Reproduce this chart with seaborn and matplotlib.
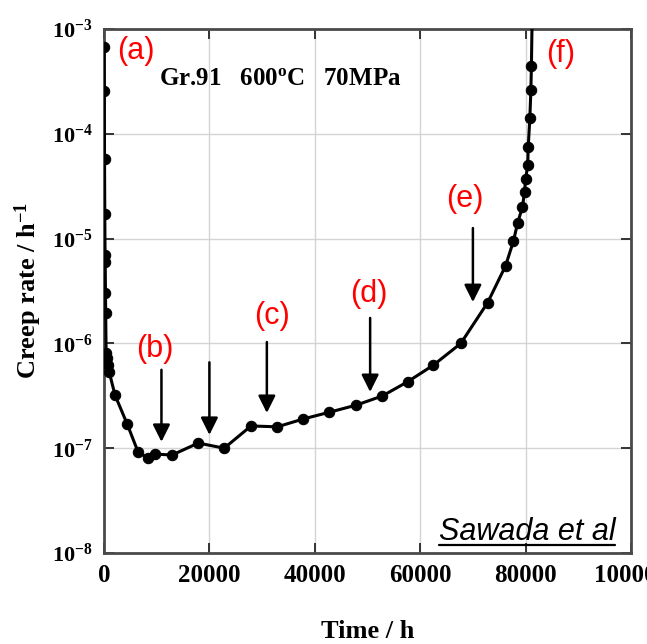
import numpy as np
import pandas as pd
import matplotlib
matplotlib.use("Agg")
import matplotlib.pyplot as plt
from matplotlib.ticker import FixedLocator, FixedFormatter, NullLocator
import seaborn as sns

# ---- data ----
time_h = [30, 60, 100, 150, 200, 230, 280, 320, 400, 600, 800, 1000,
          2100, 4400, 6500, 8400, 9700, 12900, 17900, 22800, 27900, 32900,
          37800, 42700, 47900, 52800, 57600, 62500, 67700, 72800, 76200,
          77700, 78500, 79400, 79800, 80000, 80400, 80500, 80800, 81000, 81100,
          81300]
creep_rate = [6.7e-4, 2.55e-4, 5.7e-5, 1.7e-5, 7.0e-6, 6.0e-6, 3.0e-6, 1.95e-6,
              8.1e-7, 7.2e-7, 6.2e-7, 5.3e-7,
              3.2e-7, 1.7e-7, 9.1e-8, 8.1e-8, 8.8e-8, 8.6e-8, 1.12e-7, 1.0e-7,
              1.63e-7, 1.6e-7, 1.9e-7, 2.2e-7, 2.58e-7, 3.15e-7, 4.3e-7, 6.2e-7,
              1.0e-6, 2.45e-6, 5.5e-6, 9.5e-6, 1.42e-5, 2.0e-5, 2.8e-5, 3.7e-5,
              5.0e-5, 7.5e-5, 1.4e-4, 2.6e-4, 4.4e-4, 2.0e-3]

xtick_values = [0, 20000, 40000, 60000, 80000, 100000]
xtick_labels = ["0", "20000", "40000", "60000", "80000", "100000"]
ytick_exponents = [-8, -7, -6, -5, -4, -3]
ytick_labels = ["10$^{%d}$" % e for e in ytick_exponents]

stage_labels = ["(a)", "(b)", "(c)", "(d)", "(e)", "(f)"]
stage_label_t = [6100, 9700, 31900, 50200, 68400, 86700]
stage_label_rate = [6.2e-4, 8.85e-7, 1.82e-6, 2.96e-6, 2.39e-5, 5.8e-4]

arrow_t = [10900, 20000, 30900, 50500, 70000]
arrow_tail = [5.6e-7, 6.6e-7, 1.03e-6, 1.75e-6, 1.26e-5]
arrow_tip = [1.15e-7, 1.34e-7, 2.17e-7, 3.44e-7, 2.48e-6]

df = pd.DataFrame({"Time": time_h, "Rate": creep_rate})

sns.set_theme(style="ticks")
plt.rcParams["font.family"] = ["Liberation Serif", "DejaVu Serif"]
plt.rcParams["font.weight"] = "bold"
plt.rcParams["text.color"] = "black"
plt.rcParams["axes.labelcolor"] = "black"
plt.rcParams["xtick.color"] = "black"
plt.rcParams["ytick.color"] = "black"
plt.rcParams["mathtext.fontset"] = "custom"
plt.rcParams["mathtext.rm"] = "Liberation Serif:bold"
plt.rcParams["mathtext.bf"] = "Liberation Serif:bold"
plt.rcParams["mathtext.it"] = "Liberation Serif:italic:bold"
plt.rcParams["mathtext.default"] = "rm"

fig = plt.figure(figsize=(6.47, 6.44), dpi=100)
ax = fig.add_axes([104 / 647, 1 - 553 / 644, 527 / 647, 524 / 644])

sns.lineplot(data=df, x="Time", y="Rate", ax=ax, sort=False, estimator=None,
             color="black", linewidth=2.2, marker="o", markersize=7.5,
             markeredgecolor="black", markerfacecolor="black", zorder=3)

ax.set_yscale("log")
ax.set_xlim(0, 100000)
ax.set_ylim(1e-8, 1e-3)

ax.xaxis.set_major_locator(FixedLocator(xtick_values))
ax.xaxis.set_major_formatter(FixedFormatter(xtick_labels))
ax.yaxis.set_major_locator(FixedLocator([10.0 ** e for e in ytick_exponents]))
ax.yaxis.set_major_formatter(FixedFormatter(ytick_labels))
ax.yaxis.set_minor_locator(NullLocator())
ax.xaxis.set_minor_locator(NullLocator())

ax.grid(True, color="#d4d4d4", linewidth=1.0)
ax.set_axisbelow(True)
ax.tick_params(axis="both", which="major", direction="in", top=True, right=True,
               length=7, width=1.4, color="#333333", labelcolor="black", pad=8)
ax.tick_params(axis="x", labelsize=18)
ax.tick_params(axis="y", labelsize=16)
for lab in ax.get_xticklabels() + ax.get_yticklabels():
    lab.set_fontweight("bold")
for sp in ax.spines.values():
    sp.set_linewidth(2.0)
    sp.set_color("#4a4a4a")

ax.set_xlabel("Time / h", fontsize=19, fontweight="bold", labelpad=24)
ax.set_ylabel("Creep rate / h$^{-1}$", fontsize=19, fontweight="bold", labelpad=6)

ax.text(0.105, 0.905, "Gr.91   600$^{\\rm o}$C   70MPa", transform=ax.transAxes,
        fontsize=18, fontweight="bold", ha="left", va="center")

for lab, t, r in zip(stage_labels, stage_label_t, stage_label_rate):
    ax.text(t, r, lab, color="red", fontsize=22, fontweight="normal",
            family=["Liberation Sans", "DejaVu Sans"], ha="center", va="center")

for t, a, b in zip(arrow_t, arrow_tail, arrow_tip):
    ax.annotate("", xy=(t, b), xytext=(t, a),
                arrowprops=dict(arrowstyle="-|>", color="black", lw=1.8,
                                mutation_scale=26, shrinkA=0, shrinkB=0))

sig = ax.text(0.970, 0.024, "Sawada et al", transform=ax.transAxes,
              fontsize=22, fontweight="normal", style="italic",
              family=["Liberation Sans", "DejaVu Sans"], ha="right", va="baseline")
fig.canvas.draw()
bb = sig.get_window_extent(renderer=fig.canvas.get_renderer())
inv = ax.transAxes.inverted()
(x0, _), (x1, _) = inv.transform([[bb.x0, bb.y0], [bb.x1, bb.y0]])
ax.plot([x0, x1], [0.016, 0.016], transform=ax.transAxes, color="black",
        linewidth=1.6, clip_on=False)

fig.savefig("out.png", dpi=100)
